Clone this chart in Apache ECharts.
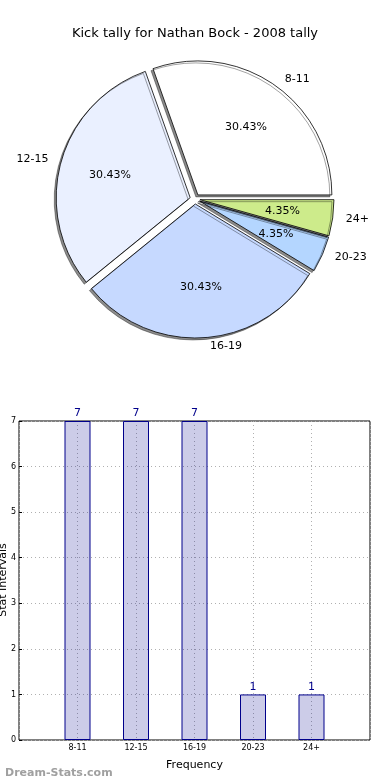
<!DOCTYPE html>
<html>
<head>
<meta charset="utf-8">
<script src="https://cdn.jsdelivr.net/npm/echarts@6/dist/echarts.min.js"></script>
<style>
  html, body { margin: 0; padding: 0; background: #fff; }
  #chart { width: 390px; height: 780px; }
</style>
</head>
<body>
<div id="chart"></div>
<script>
const titleText = 'Kick tally for Nathan Bock - 2008 tally';
const categories = ['8-11', '12-15', '16-19', '20-23', '24+'];
const counts = [7, 7, 7, 1, 1];
const sliceColors = ['#ffffff', '#eaf0ff', '#c6d9ff', '#b4d6ff', '#cdeb8b'];
const yTicks = [0, 1, 2, 3, 4, 5, 6, 7];
const xAxisName = 'Frequency';
const yAxisName = 'Stat Intervals';
const watermark = 'Dream-Stats.com';

const FONT = 'DejaVu Sans';
const R = 134;
const CX = 195, CY = 199;
const total = counts.reduce((a, b) => a + b, 0);

const pieData = categories.map((c, i) => ({
  name: c,
  value: counts[i],
  selected: true,
  itemStyle: { color: sliceColors[i] }
}));
const pctData = categories.map((c, i) => ({ name: c, value: counts[i], selected: true }));

const chart = echarts.init(document.getElementById('chart'), null, { renderer: 'canvas' });
chart.setOption({
  backgroundColor: '#ffffff',
  animation: false,
  title: [{
    text: titleText,
    left: 'center',
    top: 22,
    textStyle: { fontFamily: FONT, fontSize: 13, fontWeight: 'normal', color: '#000' }
  }, {
    text: watermark,
    left: 0,
    top: 763,
    textStyle: { fontFamily: FONT, fontSize: 11, fontWeight: 'bold', color: '#a0a0a0' }
  }],
  graphic: [{
    type: 'text',
    x: 3,
    y: 580,
    rotation: Math.PI / 2,
    style: {
      text: yAxisName,
      fontFamily: FONT, fontSize: 11, fill: '#000',
      textAlign: 'center', textVerticalAlign: 'middle'
    },
    silent: true
  }],
  grid: {
    left: 19, right: 20, top: 421, bottom: 40,
    outerBoundsMode: 'none',
    containLabel: false,
    show: true, borderColor: '#000', borderWidth: 1, backgroundColor: 'transparent'
  },
  xAxis: {
    type: 'value',
    min: 0, max: categories.length + 1, interval: 1,
    name: xAxisName,
    nameLocation: 'middle',
    nameGap: 20,
    nameTextStyle: { fontFamily: FONT, fontSize: 11, color: '#000' },
    axisLine: { show: false },
    axisTick: { show: false },
    axisLabel: {
      fontFamily: FONT, fontSize: 8, color: '#000', margin: 4,
      formatter: v => categories[v - 1] || ''
    },
    splitLine: { show: true, lineStyle: { color: '#b0b0b0', type: [1, 3], width: 1 } }
  },
  yAxis: {
    type: 'value',
    min: 0, max: yTicks[yTicks.length - 1], interval: 1,
    axisLine: { show: false },
    axisTick: { show: true, inside: true, length: 3, lineStyle: { color: '#000' } },
    axisLabel: { fontFamily: FONT, fontSize: 8, color: '#000', margin: 3 },
    splitLine: { show: true, lineStyle: { color: '#b0b0b0', type: [1, 3], width: 1 } }
  },
  series: [
    {
      type: 'pie',
      center: [CX, CY],
      radius: [0, R],
      startAngle: 0,
      clockwise: false,
      avoidLabelOverlap: false,
      selectedMode: 'multiple',
      selectedOffset: 5,
      silent: true,
      data: pieData,
      itemStyle: {
        borderColor: '#000',
        borderWidth: 0.8,
        shadowColor: 'rgba(0,0,0,0.45)',
        shadowBlur: 0,
        shadowOffsetX: -2,
        shadowOffsetY: 2
      },
      label: {
        show: true,
        position: 'outside',
        formatter: '{b}',
        fontFamily: FONT, fontSize: 11, color: '#000'
      },
      labelLine: { show: false, length: 8, length2: 0 },
      emphasis: { disabled: true }
    },
    {
      type: 'pie',
      center: [CX, CY],
      radius: [0, R * 1.2],
      startAngle: 0,
      clockwise: false,
      avoidLabelOverlap: false,
      selectedMode: 'multiple',
      selectedOffset: 5,
      silent: true,
      data: pctData,
      itemStyle: { color: 'rgba(0,0,0,0)', borderWidth: 0 },
      label: {
        show: true,
        position: 'inside',
        formatter: p => (p.value / total * 100).toFixed(2) + '%',
        fontFamily: FONT, fontSize: 11, color: '#000'
      },
      labelLine: { show: false },
      emphasis: { disabled: true }
    },
    {
      type: 'bar',
      data: counts.map((v, i) => [i + 1, v]),
      barWidth: 26,
      itemStyle: { color: 'rgba(0,0,139,0.2)', borderColor: '#00008b', borderWidth: 1 },
      label: {
        show: true, position: 'top', distance: 2,
        fontFamily: FONT, fontSize: 11, color: '#00008b',
        formatter: p => p.value[1]
      },
      silent: true
    }
  ]
});
</script>
</body>
</html>
